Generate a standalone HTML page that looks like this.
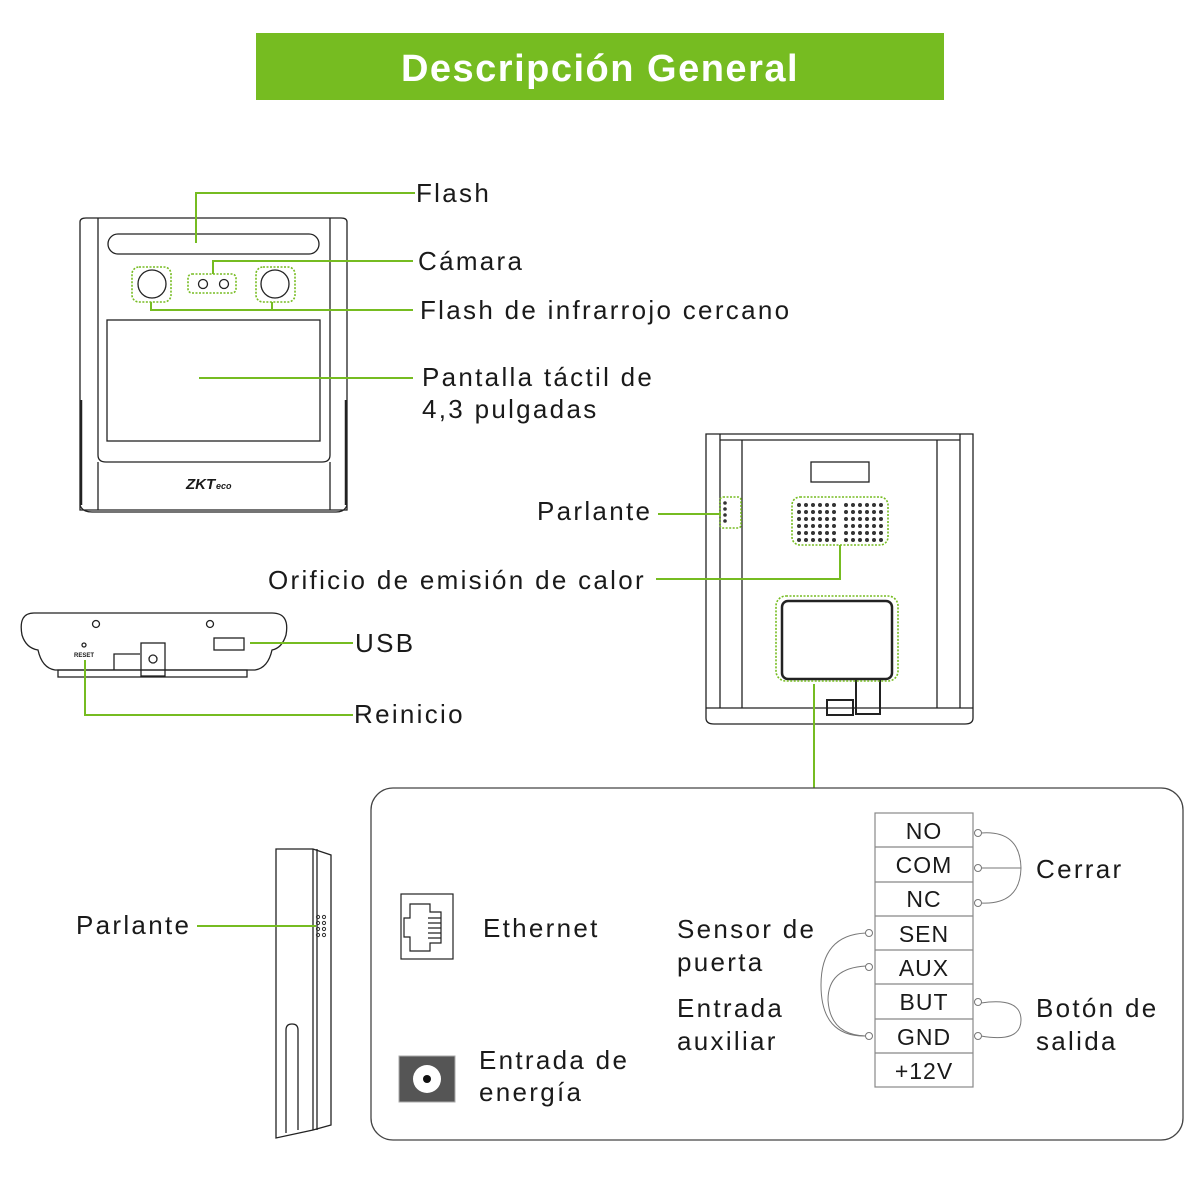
<!DOCTYPE html>
<html><head><meta charset="utf-8"><style>
body{margin:0;background:#fff}
svg{display:block}
text{font-family:"Liberation Sans",sans-serif;fill:#1a1a1a}
.l text{letter-spacing:2.3px}
</style></head><body>
<svg width="1200" height="1200" viewBox="0 0 1200 1200" xmlns="http://www.w3.org/2000/svg">
<rect x="256" y="33" width="688" height="67" fill="#76bc21"/>
<text x="600" y="81" text-anchor="middle" font-size="38" style="fill:#fff;font-weight:bold;letter-spacing:1.5px" >Descripción General</text>

<g fill="none" stroke="#222" stroke-width="1.3">
<path d="M80 510 V222 Q80 218 86 218 H341 Q347 218 347 222 V510 Z"/>
<path d="M98 218 V455 Q98 462 106 462 H322 Q330 462 330 455 V218"/>
<line x1="98" y1="510" x2="98" y2="462"/><line x1="330" y1="510" x2="330" y2="462"/>
<path d="M80 505 Q82 512 92 512 H336 Q345 512 347 505"/>
<rect x="108" y="234" width="211" height="20" rx="10"/>
<rect x="107" y="320" width="213" height="121"/>
<circle cx="152" cy="284" r="14"/><circle cx="275" cy="284" r="14"/>
<circle cx="203" cy="284" r="4.5"/><circle cx="224" cy="284" r="4.5"/>
<line x1="81" y1="400" x2="81" y2="505" stroke-width="2.5"/><line x1="346" y1="400" x2="346" y2="505" stroke-width="2.5"/>
</g>
<text x="186" y="489" font-size="15" style="font-weight:bold;font-style:italic">ZKT</text><text x="216" y="489" font-size="9" style="font-weight:bold;font-style:italic">eco</text>
<g fill="none" stroke="#76bc21" stroke-width="1.6" stroke-dasharray="2,1.5">
<rect x="132" y="267" width="39" height="35" rx="7"/><rect x="256" y="267" width="39" height="35" rx="7"/>
<rect x="188" y="274" width="48" height="19" rx="4"/>
</g>
<g fill="none" stroke="#76bc21" stroke-width="2">
<path d="M196 243 V193 H415"/>
<path d="M213 274 V261 H413"/>
<path d="M151 302 V310 H413 M272 302 V310"/>
<path d="M199 378 H413"/>
</g>
<g font-size="26" class="l">
<text x="416" y="202">Flash</text>
<text x="418" y="270">Cámara</text>
<text x="420" y="319">Flash de infrarrojo cercano</text>
<text x="422" y="386">Pantalla táctil de</text>
<text x="422" y="418">4,3 pulgadas</text>
</g>

<g fill="none" stroke="#222" stroke-width="1.3">
<path d="M34 613 H272 Q290 613 286 635 Q282 648 272 650 Q268 668 255 670 H55 Q42 668 38 650 Q26 648 22 635 Q18 613 34 613 Z"/>
<rect x="58" y="670" width="189" height="7"/>
<circle cx="96" cy="624" r="3.5"/><circle cx="210" cy="624" r="3.5"/>
<circle cx="84" cy="645" r="2"/>
<rect x="141" y="643" width="24" height="33"/><circle cx="153" cy="659" r="4"/>
<path d="M114 670 V654 H140"/>
<rect x="214" y="638" width="30" height="12"/>
</g>
<text x="74" y="657" font-size="6" style="font-weight:bold">RESET</text>
<g fill="none" stroke="#76bc21" stroke-width="2">
<path d="M250 643 H353"/><path d="M85 660 V715 H353"/>
</g>
<g font-size="26" class="l">
<text x="355" y="652">USB</text>
<text x="354" y="723">Reinicio</text>
</g>

<g fill="none" stroke="#222" stroke-width="1.3">
<path d="M706 434 H973 V718 Q973 724 965 724 H714 Q706 724 706 718 Z"/>
<path d="M720 434 V708 M960 434 V708 M742 440 V708 M937 440 V708"/>
<path d="M720 440 H960"/>
<path d="M706 708 H973"/>
<rect x="811" y="462" width="58" height="20"/>
<rect x="782" y="601" width="110" height="78" rx="6" stroke-width="2.5"/>
<rect x="856" y="679" width="24" height="35" stroke-width="2"/>
<rect x="827" y="700" width="26" height="15" stroke-width="2"/>
</g>
<g fill="#333">
<g id="dots">
<circle cx="799" cy="505" r="2"/><circle cx="806" cy="505" r="2"/><circle cx="813" cy="505" r="2"/><circle cx="820" cy="505" r="2"/><circle cx="827" cy="505" r="2"/><circle cx="834" cy="505" r="2"/>
<circle cx="846" cy="505" r="2"/><circle cx="853" cy="505" r="2"/><circle cx="860" cy="505" r="2"/><circle cx="867" cy="505" r="2"/><circle cx="874" cy="505" r="2"/><circle cx="881" cy="505" r="2"/>
</g>
<use href="#dots" y="7"/><use href="#dots" y="14"/><use href="#dots" y="21"/><use href="#dots" y="28"/><use href="#dots" y="35"/>
<circle cx="725" cy="503" r="1.8"/><circle cx="725" cy="509" r="1.8"/><circle cx="725" cy="515" r="1.8"/><circle cx="725" cy="521" r="1.8"/>
</g>
<g fill="none" stroke="#76bc21" stroke-width="1.6" stroke-dasharray="2,1.5">
<rect x="792" y="497" width="96" height="48" rx="8"/>
<rect x="720" y="497" width="21" height="31" rx="3"/>
<rect x="776" y="596" width="122" height="85" rx="10"/>
</g>
<g fill="none" stroke="#76bc21" stroke-width="2">
<path d="M658 514 H721"/>
<path d="M840 545 V579 H656"/>
<path d="M814 684 V788"/>
</g>
<g font-size="26" class="l">
<text x="537" y="520">Parlante</text>
<text x="268" y="589">Orificio de emisión de calor</text>
</g>

<g fill="none" stroke="#222" stroke-width="1.3">
<path d="M276 849 H313 L331 855 V1125 L313 1130 L276 1138 Z"/>
<path d="M313 849 V1130 M317 849 V1130"/>
<path d="M286 1133 V1030 Q286 1024 292 1024 Q298 1024 298 1030 V1130"/>
</g>
<g fill="none" stroke="#333" stroke-width="1">
<circle cx="318" cy="917" r="1.6"/><circle cx="324" cy="917" r="1.6"/><circle cx="318" cy="923" r="1.6"/><circle cx="324" cy="923" r="1.6"/><circle cx="318" cy="929" r="1.6"/><circle cx="324" cy="929" r="1.6"/><circle cx="318" cy="935" r="1.6"/><circle cx="324" cy="935" r="1.6"/>
</g>
<path d="M197 926 H316" stroke="#76bc21" stroke-width="2"/>
<g font-size="26" class="l"><text x="76" y="934">Parlante</text></g>

<rect x="371" y="788" width="812" height="352" rx="22" fill="none" stroke="#444" stroke-width="1.3"/>
<g fill="none" stroke="#222" stroke-width="1.2">
<rect x="401" y="894" width="52" height="65"/>
<path d="M410 904 H430 V912 H441 V943 H430 V951 H410 V937 H404 V918 H410 Z"/>
<path d="M428 918 H441 M428 923 H441 M428 928 H441 M428 933 H441 M428 938 H441"/>
</g>
<rect x="399" y="1056" width="56" height="46" fill="#555" stroke="#aaa"/>
<circle cx="427" cy="1079" r="14" fill="#fff"/><circle cx="427" cy="1079" r="4" fill="#111"/>
<g font-size="26" class="l">
<text x="483" y="937">Ethernet</text>
<text x="479" y="1069">Entrada de</text>
<text x="479" y="1101">energía</text>
<text x="677" y="938">Sensor de</text>
<text x="677" y="971">puerta</text>
<text x="677" y="1017">Entrada</text>
<text x="677" y="1050">auxiliar</text>
<text x="1036" y="878">Cerrar</text>
<text x="1036" y="1017">Botón de</text>
<text x="1036" y="1050">salida</text>
</g>
<rect x="875" y="813" width="98" height="274" fill="#fff" stroke="#888" stroke-width="1.2"/>
<g stroke="#888" stroke-width="1.2">
<line x1="875" y1="847" x2="973" y2="847"/><line x1="875" y1="882" x2="973" y2="882"/><line x1="875" y1="916" x2="973" y2="916"/><line x1="875" y1="950" x2="973" y2="950"/><line x1="875" y1="984" x2="973" y2="984"/><line x1="875" y1="1019" x2="973" y2="1019"/><line x1="875" y1="1053" x2="973" y2="1053"/>
</g>
<g font-size="23" text-anchor="middle" style="letter-spacing:1px">
<text x="924" y="839">NO</text><text x="924" y="873">COM</text><text x="924" y="907">NC</text><text x="924" y="942">SEN</text><text x="924" y="976">AUX</text><text x="924" y="1010">BUT</text><text x="924" y="1045">GND</text><text x="924" y="1079">+12V</text>
</g>
<g fill="none" stroke="#777" stroke-width="1">
<path d="M981 833 Q1020 830 1021 868 Q1020 905 981 903 M981 868 H1021"/>
<path d="M981 1003 Q1021 997 1021 1020 Q1021 1043 981 1036"/>
<path d="M866 933 Q821 935 821 985 Q821 1037 866 1036"/>
<path d="M866 966 Q828 968 828 1000 Q830 1035 866 1036"/>
</g>
<g fill="#fff" stroke="#777" stroke-width="1">
<circle cx="978" cy="833" r="3.5"/><circle cx="978" cy="868" r="3.5"/><circle cx="978" cy="903" r="3.5"/>
<circle cx="978" cy="1002" r="3.5"/><circle cx="978" cy="1036" r="3.5"/>
<circle cx="869" cy="933" r="3.5"/><circle cx="869" cy="967" r="3.5"/><circle cx="869" cy="1036" r="3.5"/>
</g>
</svg>
</body></html>
